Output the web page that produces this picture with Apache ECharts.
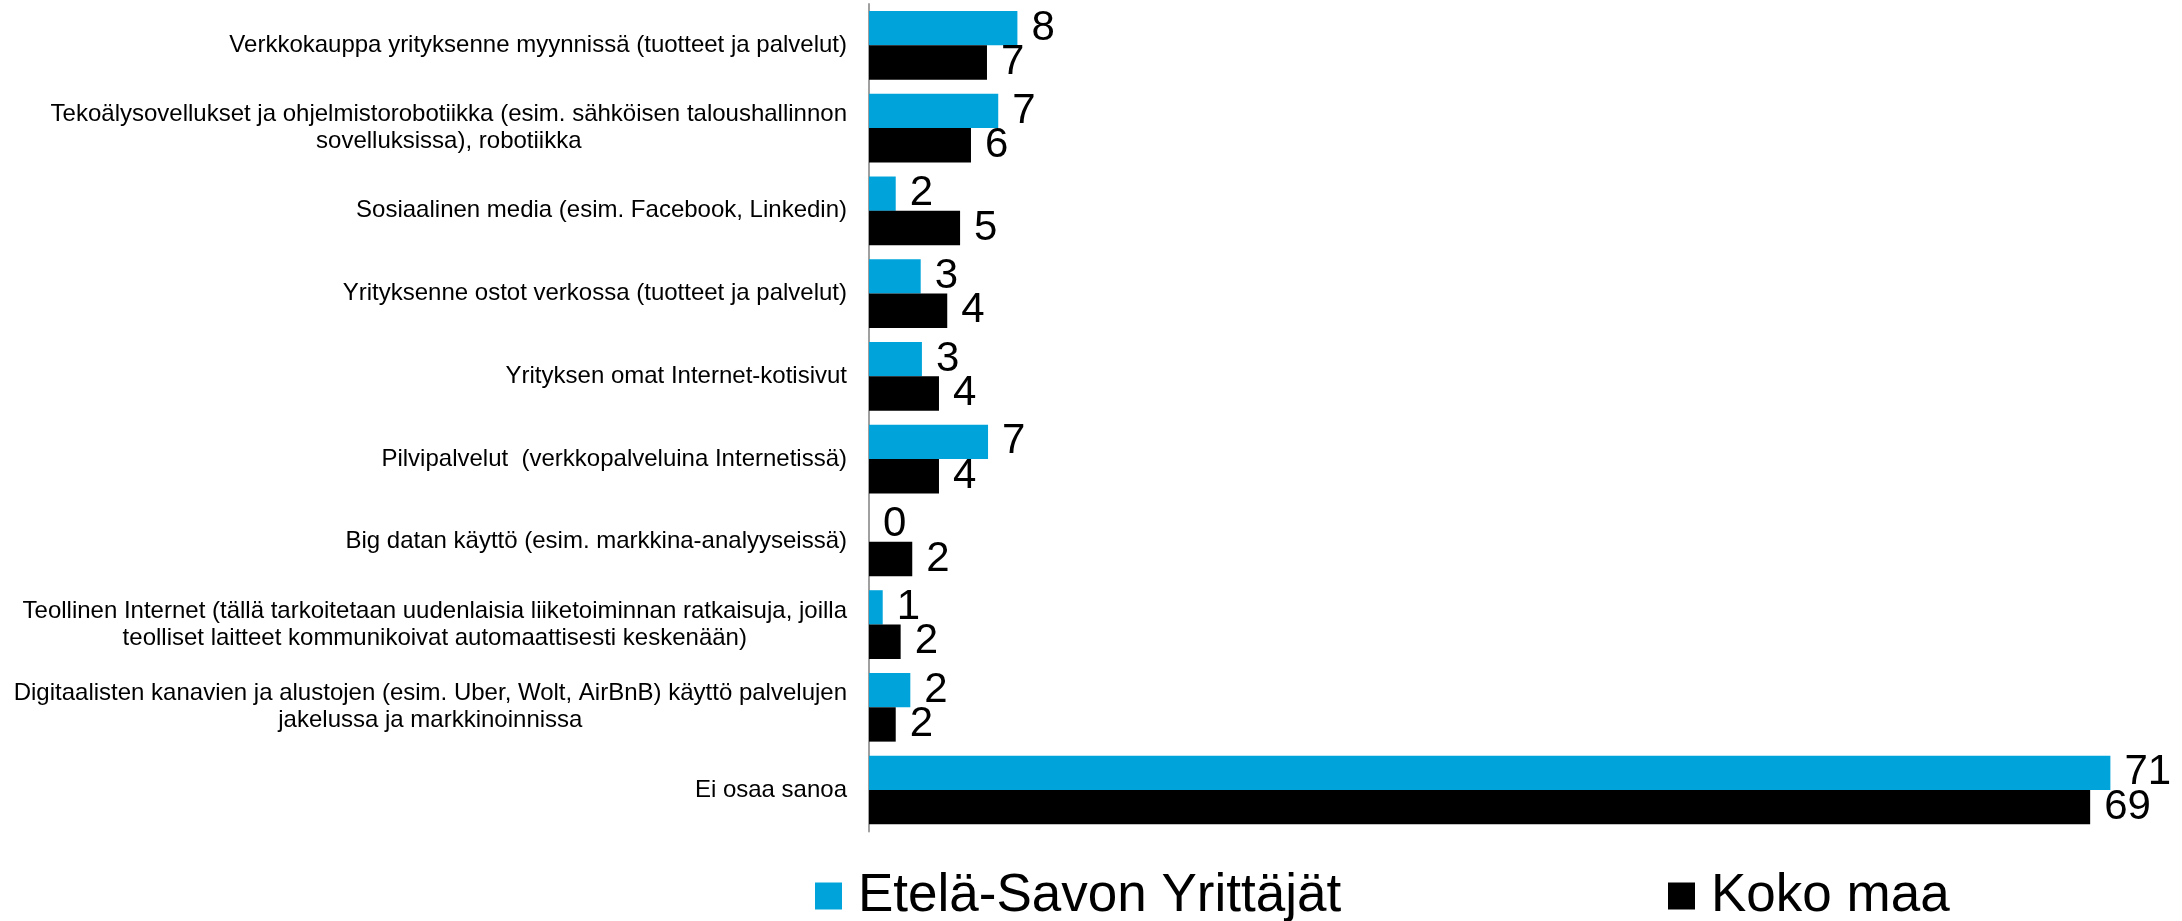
<!DOCTYPE html>
<html>
<head>
<meta charset="utf-8">
<script src="https://cdn.jsdelivr.net/npm/echarts@6/dist/echarts.min.js"></script>
<style>
html,body{margin:0;padding:0;background:#fff;}
#chart{width:2182px;height:921px;}
</style>
</head>
<body>
<div id="chart"></div>
<script>
const categories = [
  "Verkkokauppa yrityksenne myynnissä (tuotteet ja palvelut)",
  "Tekoälysovellukset ja ohjelmistorobotiikka (esim. sähköisen taloushallinnon\nsovelluksissa), robotiikka",
  "Sosiaalinen media (esim. Facebook, Linkedin)",
  "Yrityksenne ostot verkossa (tuotteet ja palvelut)",
  "Yrityksen omat Internet-kotisivut",
  "Pilvipalvelut  (verkkopalveluina Internetissä)",
  "Big datan käyttö (esim. markkina-analyyseissä)",
  "Teollinen Internet (tällä tarkoitetaan uudenlaisia liiketoiminnan ratkaisuja, joilla\nteolliset laitteet kommunikoivat automaattisesti keskenään)",
  "Digitaalisten kanavien ja alustojen (esim. Uber, Wolt, AirBnB) käyttö palvelujen\njakelussa ja markkinoinnissa",
  "Ei osaa sanoa"
];
const seriesNames = ["Etelä-Savon Yrittäjät", "Koko maa"];
const etelaSavo = [8.44, 7.35, 1.52, 2.94, 3.01, 6.77, 0, 0.78, 2.35, 70.6];
const kokoMaa = [6.71, 5.80, 5.18, 4.45, 3.98, 3.98, 2.46, 1.80, 1.52, 69.45];

const FONT = '"Liberation Sans", Arial, sans-serif';
const chart = echarts.init(document.getElementById('chart'), null, {renderer: 'canvas'});

const valueLabel = {
  show: true,
  position: 'right',
  distance: 14,
  fontSize: 42,
  fontFamily: FONT,
  color: '#000',
  formatter: p => String(Math.round(p.value))
};

const legendBase = {
  orient: 'horizontal',
  top: 869,
  padding: 0,
  icon: 'rect',
  itemWidth: 27,
  itemHeight: 27,
  selectedMode: false,
  textStyle: {fontSize: 53, fontFamily: FONT, color: '#000', lineHeight: 54, padding: [0, 0, 0, 11]}
};

chart.setOption({
  animation: false,
  backgroundColor: '#fff',
  grid: {left: 869, top: 4, right: 47, bottom: 89.6, containLabel: false},
  legend: [
    Object.assign({}, legendBase, {left: 815, data: [seriesNames[0]]}),
    Object.assign({}, legendBase, {left: 1668, data: [seriesNames[1]]})
  ],
  xAxis: {type: 'value', min: 0, max: 72, show: false},
  yAxis: {
    type: 'category',
    data: categories,
    inverse: true,
    axisTick: {show: false},
    axisLine: {show: true, lineStyle: {color: '#a0a0a0', width: 2}},
    axisLabel: {
      margin: 22,
      fontSize: 24,
      fontFamily: FONT,
      color: '#000',
      lineHeight: 27,
      formatter: v => v.split('\n').map(l => '{c|' + l + '}').join('\n'),
      rich: {c: {align: 'center', fontSize: 24, fontFamily: FONT, color: '#000', lineHeight: 27}}
    },
    splitLine: {show: false}
  },
  series: [
    {
      name: seriesNames[0], type: 'bar', data: etelaSavo,
      barGap: '0%', barCategoryGap: '17%',
      itemStyle: {color: '#00A4DA'},
      label: valueLabel
    },
    {
      name: seriesNames[1], type: 'bar', data: kokoMaa,
      barGap: '0%', barCategoryGap: '17%',
      itemStyle: {color: '#000000'},
      label: valueLabel
    }
  ]
});
</script>
</body>
</html>
